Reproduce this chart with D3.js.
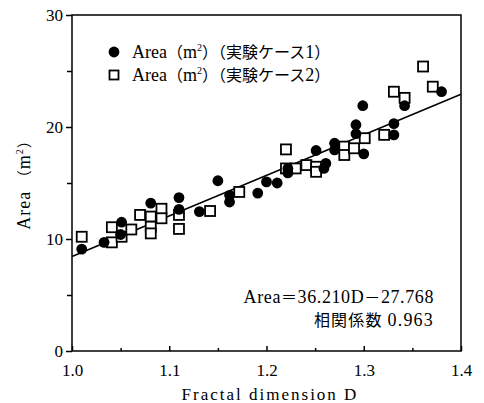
<!DOCTYPE html>
<html>
<head>
<meta charset="utf-8">
<script src="https://cdn.jsdelivr.net/npm/d3@7"></script>
<style>
  html, body { margin: 0; padding: 0; background: #fff; }
  svg { display: block; }
  svg text { font-family: "Liberation Serif", "Times New Roman", serif; fill: #000; }
  svg tspan.cjk { font-family: "Noto Sans CJK JP", sans-serif; }
</style>
</head>
<body>
<div id="chart"></div>
<script>
// case 1 (filled circles)
const case1D = [1.010, 1.033, 1.051, 1.050, 1.081, 1.110, 1.110, 1.131, 1.150, 1.162, 1.162,
  1.191, 1.200, 1.211, 1.222, 1.222, 1.251, 1.259, 1.261, 1.270, 1.270, 1.292, 1.292,
  1.299, 1.300, 1.331, 1.331, 1.342, 1.380];
const case1A = [9.1, 9.7, 11.5, 10.4, 13.2, 13.7, 12.65, 12.45, 15.2, 13.9, 13.3,
  14.1, 15.1, 15.0, 16.3, 15.9, 17.9, 16.3, 16.75, 18.55, 17.95, 20.2, 19.4,
  21.9, 17.6, 20.3, 19.3, 21.9, 23.15];

// case 2 (open squares)
const case2D = [1.010, 1.041, 1.041, 1.051, 1.061, 1.070, 1.081, 1.081, 1.081, 1.092, 1.092,
  1.110, 1.110, 1.142, 1.172, 1.220, 1.220, 1.230, 1.241, 1.251, 1.251, 1.280, 1.280,
  1.290, 1.301, 1.321, 1.331, 1.342, 1.361, 1.371];
const case2A = [10.2, 11.05, 9.7, 10.2, 10.85, 12.15, 12.0, 11.1, 10.5, 12.7, 11.85,
  12.15, 10.9, 12.5, 14.2, 18.0, 16.3, 16.3, 16.6, 16.45, 16.0, 18.25, 17.5,
  18.1, 19.0, 19.3, 23.15, 22.6, 25.4, 23.6];

const xTicks = [1.0, 1.1, 1.2, 1.3, 1.4];
const xMinor = [1.05, 1.15, 1.25, 1.35];
const yTicks = [0, 10, 20, 30];
const yMinor = [5, 15, 25];

const slope = 36.210, intercept = -27.768;
const corr = 0.963;

const width = 484, height = 403;

const x = d3.scaleLinear().domain([1.0, 1.4]).range([72, 461]);
const y = d3.scaleLinear().domain([0, 30]).range([351, 15]);

const svg = d3.select("#chart").append("svg")
  .attr("width", width)
  .attr("height", height);

// frame
svg.append("rect")
  .attr("x", x(1.0)).attr("y", y(30))
  .attr("width", x(1.4) - x(1.0)).attr("height", y(0) - y(30))
  .attr("fill", "none").attr("stroke", "#000").attr("stroke-width", 1.5);

// x axis
svg.append("g")
  .attr("transform", `translate(0,${y(0)})`)
  .call(d3.axisBottom(x).tickValues(xTicks).tickSize(-5).tickPadding(13)
    .tickFormat(d3.format(".1f")));
svg.append("g")
  .attr("transform", `translate(0,${y(0)})`)
  .call(d3.axisBottom(x).tickValues(xMinor).tickSize(-3).tickFormat(""));

// y axis
svg.append("g")
  .attr("transform", `translate(${x(1.0)},0)`)
  .call(d3.axisLeft(y).tickValues(yTicks).tickSize(6).tickPadding(3));
svg.append("g")
  .attr("transform", `translate(${x(1.0)},0)`)
  .call(d3.axisLeft(y).tickValues(yMinor).tickSize(5).tickFormat(""));

svg.selectAll(".domain").remove();
svg.selectAll(".tick line").attr("stroke-width", 1.5);
svg.selectAll(".tick text").attr("font-size", 17);

// axis titles
svg.append("text")
  .attr("x", 270).attr("y", 400)
  .attr("text-anchor", "middle")
  .attr("font-size", 17)
  .attr("letter-spacing", 2)
  .text("Fractal dimension D");

const yt = svg.append("text")
  .attr("transform", `translate(30,181) rotate(-90)`)
  .attr("text-anchor", "middle")
  .attr("font-size", 18)
  .attr("letter-spacing", 1);
yt.append("tspan").text("Area ");
yt.append("tspan").attr("class", "cjk").attr("font-size", 15).text("（");
yt.append("tspan").text("m");
yt.append("tspan").attr("font-size", 10).attr("dy", -7).text("2");
yt.append("tspan").attr("class", "cjk").attr("font-size", 15).attr("dy", 7).text("）");

// regression line
svg.append("line")
  .attr("x1", x(1.0)).attr("y1", y(slope * 1.0 + intercept))
  .attr("x2", x(1.4)).attr("y2", y(slope * 1.4 + intercept))
  .attr("stroke", "#000").attr("stroke-width", 1.5);

// case 2 squares
const s = 10;
svg.append("g")
  .selectAll("rect")
  .data(case2D.map((d, i) => [d, case2A[i]]))
  .join("rect")
  .attr("x", d => x(d[0]) - s / 2)
  .attr("y", d => y(d[1]) - s / 2)
  .attr("width", s).attr("height", s)
  .attr("fill", "#fff").attr("stroke", "#000").attr("stroke-width", 1.8);

// case 1 circles
svg.append("g")
  .selectAll("circle")
  .data(case1D.map((d, i) => [d, case1A[i]]))
  .join("circle")
  .attr("cx", d => x(d[0]))
  .attr("cy", d => y(d[1]))
  .attr("r", 5.4)
  .attr("fill", "#000");

// legend
const legend = [
  { label: "1", mark: "circle", y: 52 },
  { label: "2", mark: "square", y: 75 }
];
legend.forEach(l => {
  if (l.mark === "circle") {
    svg.append("circle").attr("cx", 114).attr("cy", l.y).attr("r", 5.4).attr("fill", "#000");
  } else {
    svg.append("rect").attr("x", 109.5).attr("y", l.y - 4.5).attr("width", 9).attr("height", 9)
      .attr("fill", "#fff").attr("stroke", "#000").attr("stroke-width", 1.8);
  }
  const t = svg.append("text").attr("x", 132).attr("y", l.y + 6).attr("font-size", 18);
  t.append("tspan").text("Area");
  t.append("tspan").attr("class", "cjk").attr("font-size", 16).text("（");
  t.append("tspan").text("m");
  t.append("tspan").attr("font-size", 10).attr("dy", -7).text("2");
  t.append("tspan").attr("class", "cjk").attr("font-size", 16).attr("dy", 7).text("）（実験ケース");
  t.append("tspan").text(l.label);
  t.append("tspan").attr("class", "cjk").attr("font-size", 16).text("）");
});

// equation
const eq = svg.append("text").attr("x", 434).attr("y", 303)
  .attr("text-anchor", "end").attr("font-size", 18).attr("letter-spacing", 0.6);
eq.append("tspan").text("Area");
eq.append("tspan").attr("class", "cjk").attr("font-size", 16).text("＝");
eq.append("tspan").text(`${slope.toFixed(3)}D`);
eq.append("tspan").attr("class", "cjk").attr("font-size", 16).text("－");
eq.append("tspan").text(`${Math.abs(intercept).toFixed(3)}`);

const ct = svg.append("text").attr("x", 434).attr("y", 326)
  .attr("text-anchor", "end").attr("font-size", 18).attr("letter-spacing", 1.2);
ct.append("tspan").attr("class", "cjk").attr("font-size", 16).text("相関係数 ");
ct.append("tspan").text(corr.toFixed(3));
</script>
</body>
</html>
